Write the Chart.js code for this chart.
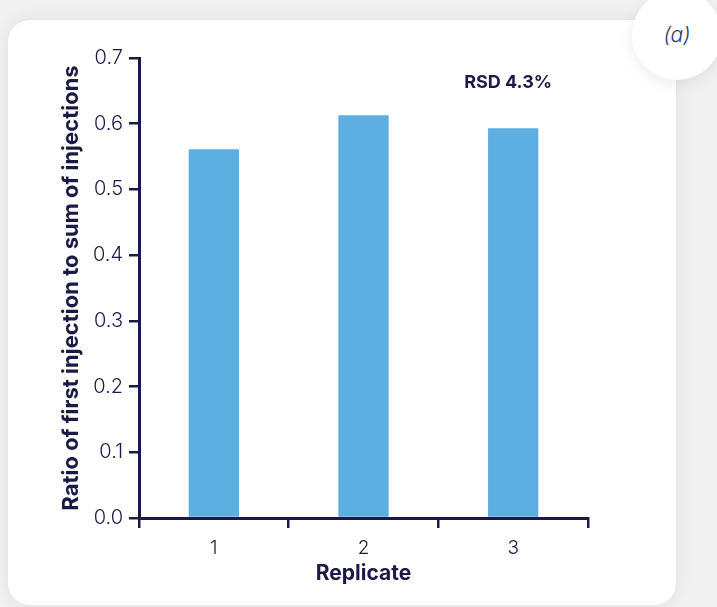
<!DOCTYPE html>
<html>
<head>
<meta charset="utf-8">
<script src="https://cdn.jsdelivr.net/npm/chart.js@4.4.0/dist/chart.umd.min.js"></script>
<style>
    body { margin: 0; width: 717px; height: 607px; background: #f1f1f2; overflow: hidden; position: relative; font-family: Inter, "Open Sans", sans-serif; }
    .card { position: absolute; left: 8px; top: 20px; width: 668px; height: 585px; background: #fff; border-radius: 22px; box-shadow: 0 0 18px rgba(0,0,0,0.08); }
    .badge { position: absolute; left: 632px; top: -10px; width: 90px; height: 90px; border-radius: 50%; background: #fff; box-shadow: 0 4px 16px rgba(0,0,0,0.08); }
    .badge span { position: absolute; left: 0; right: 0; top: 32px; text-align: center; font-size: 21px; font-weight: 300; font-style: italic; color: #2b3a66; }
    #ratioChart { position: absolute; left: 0; top: 0; }
</style>
</head>
<body>
<div class="card"></div>
<div class="badge"><span>(a)</span></div>
<canvas id="ratioChart" width="717" height="607"></canvas>
<script>
// data
const replicates = ['1', '2', '3'];
const ratioValues = [0.561, 0.613, 0.593];
const yTicks = [0, 0.1, 0.2, 0.3, 0.4, 0.5, 0.6, 0.7];
const rsdLabel = 'RSD 4.3%';

const navy = '#1b1a47';

// small plugin for the RSD note in the plot area
const rsdNote = {
    id: 'rsdNote',
    afterDraw(chart) {
        const ctx = chart.ctx;
        const x = chart.scales.x.getPixelForValue(2) - 49;
        const y = chart.scales.y.getPixelForValue(0.663);
        ctx.save();
        ctx.font = 'bold 18px Inter, sans-serif';
        ctx.fillStyle = navy;
        ctx.textAlign = 'left';
        ctx.textBaseline = 'middle';
        ctx.fillText(rsdLabel, x, y);
        ctx.restore();
    }
};

new Chart(document.getElementById('ratioChart'), {
    type: 'bar',
    data: {
        labels: replicates,
        datasets: [{
            data: ratioValues,
            backgroundColor: '#5dafe1',
            barPercentage: 0.336,
            categoryPercentage: 1.0
        }]
    },
    options: {
        responsive: false,
        animation: false,
        devicePixelRatio: 1,
        layout: { padding: { left: 54, top: 58, right: 129, bottom: 19 } },
        plugins: {
            legend: { display: false },
            tooltip: { enabled: false }
        },
        scales: {
            x: {
                afterFit: s => { s.height = 70; },
                grid: { drawOnChartArea: false, drawTicks: true, tickLength: 10, color: navy, lineWidth: 2.5, offset: true },
                border: { color: navy, width: 3 },
                ticks: { color: navy, font: { size: 19, weight: 300, family: 'Inter, sans-serif' }, padding: 9 },
                title: { display: true, text: 'Replicate', color: navy, font: { size: 21, weight: 'bold', family: 'Inter, sans-serif' }, padding: { top: 0, bottom: 2 } }
            },
            y: {
                min: 0,
                max: 0.7,
                afterFit: s => { s.width = 85; },
                afterBuildTicks: s => { s.ticks = yTicks.map(v => ({ value: v })); },
                grid: { drawOnChartArea: false, drawTicks: true, tickLength: 10, color: navy, lineWidth: 2.5 },
                border: { color: navy, width: 3 },
                ticks: { color: navy, font: { size: 20, weight: 300, family: 'Inter, sans-serif' }, padding: 6, callback: v => v.toFixed(1) },
                title: { display: true, text: 'Ratio of first injection to sum of injections', color: navy, font: { size: 22, weight: 'bold', family: 'Inter, sans-serif' }, padding: { top: 4, bottom: 0 } }
            }
        }
    },
    plugins: [rsdNote]
});
</script>
</body>
</html>
